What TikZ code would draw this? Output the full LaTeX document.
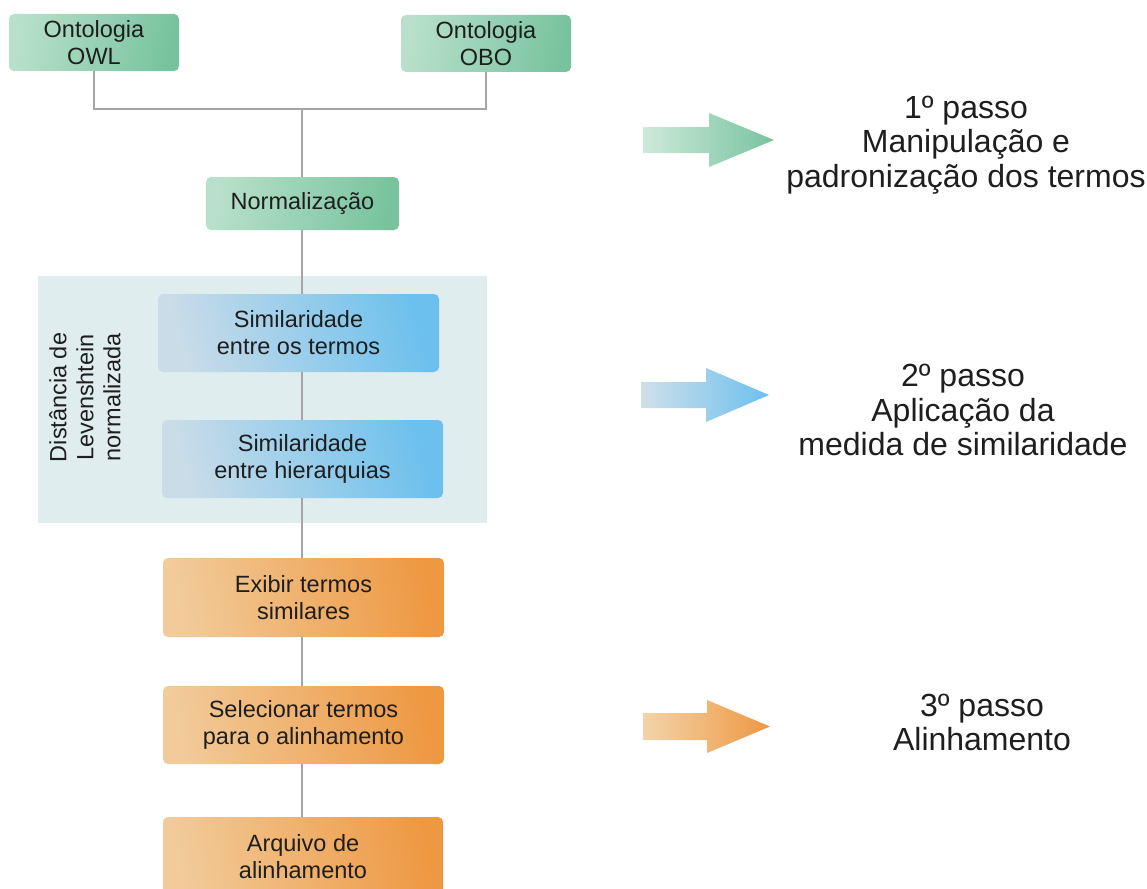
\documentclass[tikz,border=0pt]{standalone}
\usepackage{fontspec}
\setmainfont{Liberation Sans}
\definecolor{greenL}{RGB}{184,224,202}
\definecolor{greenR}{RGB}{120,195,158}
\definecolor{blueL}{RGB}{202,220,232}
\definecolor{blueR}{RGB}{108,192,237}
\definecolor{orangeL}{RGB}{241,203,154}
\definecolor{orangeR}{RGB}{238,152,66}
\definecolor{bgblue}{RGB}{224,237,239}
\definecolor{linegray}{RGB}{165,165,165}
\definecolor{txt}{RGB}{30,30,30}
\tikzset{
  box/.style={rectangle, rounded corners=5pt, inner sep=0pt, align=center,
    text=txt, font=\fontsize{23.5}{27}\selectfont},
  gbox/.style={box, left color=greenL, right color=greenR, shading angle=80},
  bbox/.style={box, left color=blueL, right color=blueR, shading angle=105},
  obox/.style={box, left color=orangeL, right color=orangeR, shading angle=100},
  conn/.style={draw=linegray, line width=1.2pt},
  steptext/.style={align=center, text=txt, inner sep=0pt,
    font=\fontsize{32}{34.5}\selectfont},
}
\begin{document}
\begin{tikzpicture}[x=1pt,y=-1pt]
\useasboundingbox (0,0) rectangle (1147,888);
\clip (0,0) rectangle (1147,888);
% background panel
\fill[bgblue] (38,276) rectangle (487,523);
% boxes
\node[gbox, minimum width=170pt, minimum height=57pt] (owl) at (94,42.5) {Ontologia\\OWL};
\node[gbox, minimum width=170pt, minimum height=57pt] (obo) at (486,43.5) {Ontologia\\OBO};
\node[gbox, minimum width=193pt, minimum height=53pt] (norm) at (302.5,203.5) {Normalização};
\node[bbox, minimum width=281pt, minimum height=78pt] (sim1) at (298.5,333) {Similaridade\\entre os termos};
\node[bbox, minimum width=281pt, minimum height=78pt] (sim2) at (302.5,459) {Similaridade\\entre hierarquias};
\node[obox, minimum width=281pt, minimum height=79pt] (exib) at (303.5,597.5) {Exibir termos\\similares};
\node[obox, minimum width=281pt, minimum height=78pt] (sel) at (303.5,725) {Selecionar termos\\para o alinhamento};
\node[obox, minimum width=280pt, minimum height=80pt] (arq) at (303,857) {Arquivo de\\alinhamento};
% rotated label
\node[align=center, text=txt, inner sep=0pt, rotate=90,
  font=\fontsize{23.5}{27}\selectfont] (lev) at (85,397.5) {Distância de\\Levenshtein\\normalizada};
% connectors
\coordinate (j) at (302,109);
\draw[conn] (owl.south) |- (j) -| (obo.south);
\draw[conn] (j) -- (j |- norm.north);
\draw[conn] (j |- norm.south) -- (j |- sim1.north);
\draw[conn] (j |- sim1.south) -- (j |- sim2.north);
\draw[conn] (j |- sim2.south) -- (j |- exib.north);
\draw[conn] (j |- exib.south) -- (j |- sel.north);
\draw[conn] (j |- sel.south) -- (j |- arq.north);
% step arrows
\shade[left color=greenL!70!white, right color=greenR]
  (643,127) -- (709,127) -- (709,113) -- (774,140) -- (709,167) -- (709,153) -- (643,153) -- cycle;
\shade[left color=blueL!90!white, right color=blueR]
  (641,382) -- (706,382) -- (706,368) -- (769,395) -- (706,422) -- (706,408) -- (641,408) -- cycle;
\shade[left color=orangeL!85!white, right color=orangeR]
  (643,713) -- (707,713) -- (707,700) -- (770,726.5) -- (707,753) -- (707,740) -- (643,740) -- cycle;
% step texts
\node[steptext] (s1) at (966,145) {1º passo\\Manipulação e\\padronização dos termos};
\node[steptext] (s2) at (963,410) {2º passo\\Aplicação da\\medida de similaridade};
\node[steptext] (s3) at (982,722.5) {3º passo\\Alinhamento};
\end{tikzpicture}
\end{document}
